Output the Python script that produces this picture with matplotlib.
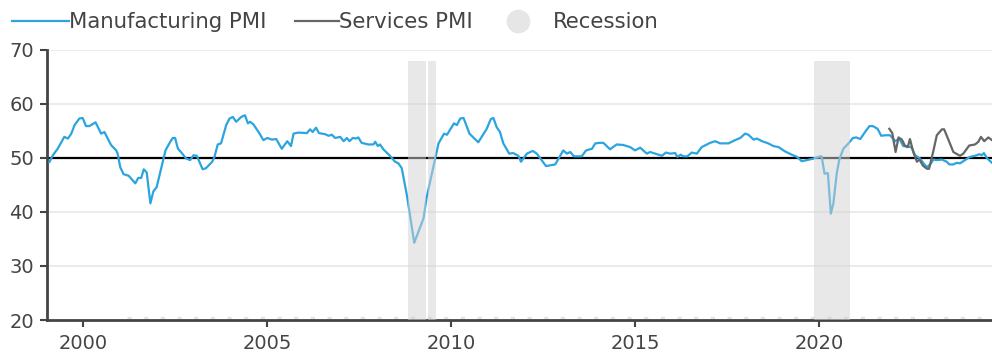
import matplotlib
matplotlib.use("Agg")
import matplotlib.pyplot as plt
from matplotlib.lines import Line2D

# ------------------------------------------------------------------ data (decimal years)
MFG_T = [1999.08, 1999.17, 1999.30, 1999.48, 1999.58, 1999.67, 1999.76, 1999.89, 1999.98,
         2000.07, 2000.16, 2000.33, 2000.48, 2000.57, 2000.75, 2000.89, 2000.93, 2001.00,
         2001.09, 2001.23, 2001.41, 2001.49, 2001.57, 2001.64, 2001.72, 2001.82, 2001.90,
         2001.99, 2002.23, 2002.36, 2002.43, 2002.49, 2002.57, 2002.65, 2002.79, 2002.90,
         2002.99, 2003.08, 2003.24, 2003.33, 2003.50, 2003.56, 2003.65, 2003.74, 2003.88,
         2003.97, 2004.06, 2004.15, 2004.29, 2004.39, 2004.47, 2004.53, 2004.62, 2004.76,
         2004.89, 2005.00, 2005.12, 2005.24, 2005.39, 2005.54, 2005.64, 2005.71, 2005.84,
         2006.07, 2006.16, 2006.23, 2006.32, 2006.40, 2006.57, 2006.66, 2006.75, 2006.84,
         2006.98, 2007.07, 2007.16, 2007.23, 2007.32, 2007.41, 2007.47, 2007.56, 2007.74,
         2007.88, 2007.93, 2008.00, 2008.06, 2008.15, 2008.33, 2008.47, 2008.56, 2008.65,
         2008.79, 2008.99, 2009.24, 2009.33, 2009.65, 2009.80, 2009.88, 2010.07, 2010.15,
         2010.24, 2010.33, 2010.49, 2010.73, 2010.96, 2011.07, 2011.14, 2011.23, 2011.32,
         2011.41, 2011.57, 2011.68, 2011.82, 2011.89, 2012.05, 2012.21, 2012.32, 2012.57,
         2012.82, 2013.04, 2013.14, 2013.23, 2013.33, 2013.54, 2013.66, 2013.82, 2013.91,
         2014.04, 2014.13, 2014.31, 2014.49, 2014.67, 2014.86, 2014.99, 2015.13, 2015.31,
         2015.40, 2015.72, 2015.83, 2015.94, 2016.08, 2016.14, 2016.23, 2016.30, 2016.41,
         2016.53, 2016.67, 2016.80, 2016.94, 2017.03, 2017.17, 2017.30, 2017.53, 2017.71,
         2017.85, 2017.98, 2018.07, 2018.21, 2018.30, 2018.44, 2018.61, 2018.75, 2018.89,
         2019.07, 2019.25, 2019.39, 2019.52, 2019.66, 2019.84, 2020.02, 2020.06, 2020.14,
         2020.23, 2020.31, 2020.38, 2020.47, 2020.54, 2020.65, 2020.79, 2020.91, 2021.00,
         2021.11, 2021.24, 2021.36, 2021.45, 2021.58, 2021.68, 2021.79, 2021.92, 2022.06,
         2022.17, 2022.28, 2022.39, 2022.51, 2022.60, 2022.73, 2022.83, 2022.92, 2023.01,
         2023.10, 2023.19, 2023.33, 2023.46, 2023.53, 2023.64, 2023.73, 2023.82, 2023.91,
         2024.09, 2024.23, 2024.35, 2024.41, 2024.47, 2024.56, 2024.69]
MFG_V = [49.3, 50.5, 51.7, 53.9, 53.6, 54.5, 56.1, 57.3, 57.4,
         55.9, 55.9, 56.6, 54.5, 54.8, 52.4, 51.4, 50.8, 48.3,
         47.0, 46.7, 45.3, 46.3, 46.3, 47.9, 47.3, 41.6, 43.8,
         44.6, 51.4, 53.0, 53.7, 53.7, 51.7, 51.1, 49.9, 49.6,
         50.5, 50.4, 47.9, 48.1, 49.3, 50.2, 52.5, 52.7, 56.1,
         57.3, 57.6, 56.7, 57.6, 57.9, 56.4, 56.7, 56.2, 54.8,
         53.3, 53.7, 53.4, 53.5, 51.7, 53.1, 52.2, 54.5, 54.7,
         54.6, 55.3, 54.8, 55.6, 54.6, 54.4, 54.1, 54.3, 53.7,
         53.9, 53.1, 53.7, 53.1, 53.7, 53.6, 53.8, 52.8, 52.5,
         52.5, 53.0, 52.2, 52.5, 51.6, 50.4, 49.3, 49.0, 48.1,
         43.1, 34.3, 38.8, 42.8, 52.7, 54.5, 54.3, 56.4, 56.1,
         57.3, 57.4, 54.5, 52.9, 55.4, 57.2, 57.4, 55.7, 54.8,
         52.7, 50.8, 50.9, 50.4, 49.3, 50.8, 51.3, 50.8, 48.5,
         48.8, 51.4, 50.8, 51.1, 50.3, 50.3, 51.4, 51.7, 52.7,
         52.8, 52.8, 51.6, 52.5, 52.4, 52.0, 51.4, 51.9, 50.8,
         51.1, 50.4, 51.0, 50.8, 50.9, 50.2, 50.6, 50.3, 50.3,
         51.0, 50.8, 52.0, 52.5, 52.8, 53.1, 52.7, 52.7, 53.3,
         53.7, 54.5, 54.3, 53.4, 53.6, 53.1, 52.7, 52.2, 52.0,
         51.2, 50.6, 50.2, 49.4, 49.6, 49.9, 50.3, 50.3, 47.1,
         47.2, 39.7, 41.6, 47.1, 49.7, 51.7, 52.7, 53.7, 53.8,
         53.5, 54.8, 55.9, 55.9, 55.4, 54.1, 54.2, 54.2, 53.1,
         53.6, 52.2, 52.2, 51.9, 50.5, 49.9, 49.0, 48.3, 48.8,
         49.7, 49.6, 49.7, 49.3, 48.8, 48.8, 49.1, 49.0, 49.4,
         50.2, 50.4, 50.7, 50.5, 50.9, 49.9, 49.1]

SVC_T = [2021.90, 2021.98, 2022.07, 2022.15, 2022.24, 2022.33, 2022.40, 2022.46, 2022.55,
         2022.65, 2022.72, 2022.81, 2022.92, 2022.98, 2023.10, 2023.19, 2023.33, 2023.39,
         2023.51, 2023.64, 2023.82, 2023.91, 2024.07, 2024.23, 2024.32, 2024.39, 2024.48,
         2024.59, 2024.69]
SVC_V = [55.4, 54.6, 51.1, 53.8, 53.4, 52.2, 52.0, 53.5, 51.1,
         49.3, 49.7, 48.6, 48.0, 48.0, 51.4, 54.2, 55.3, 55.3,
         53.3, 51.1, 50.4, 50.8, 52.3, 52.5, 53.0, 53.9, 53.1,
         53.8, 53.3]

REC_START = [2008.82, 2009.36, 2019.86]
REC_END   = [2009.30, 2009.58, 2020.83]

YEAR_TICKS = [2000, 2005, 2010, 2015, 2020]
VAL_TICKS  = [20, 30, 40, 50, 60, 70]

BLUE  = '#2ba4e0'
GREY  = '#666666'
SHADE = '#d2d2d2'
TXT   = '#444444'

plt.rcParams['font.family'] = ['DejaVu Sans']

fig = plt.figure(figsize=(9.92, 3.54), dpi=100)
ax = fig.add_axes([0.047, 0.096, 0.953, 0.763])

# grid + reference line at 50
for v in VAL_TICKS[1:]:
    if v != 50:
        ax.axhline(v, color='#ebebeb', lw=1.4, zorder=0)
ax.axhline(50, color='black', lw=1.6, zorder=2)

ax.plot(MFG_T, MFG_V, color=BLUE, lw=1.6, zorder=3)
ax.plot(SVC_T, SVC_V, color=GREY, lw=1.6, zorder=3)

# recession bands sit on top of the lines, semi-transparent
for s, e in zip(REC_START, REC_END):
    ax.bar(s, 48, bottom=20, width=e - s, align='edge', color=SHADE,
           alpha=0.5, lw=0, zorder=4)
# zero-height recession markers along the floor
ax.plot([2001.18, 2024.69], [20.35, 20.35], color='#e4e4e4', lw=2.5,
        ls=(0, (1.2, 3.6)), zorder=1, solid_capstyle='butt')

ax.set_xlim(1999.0, 2024.69)
ax.set_ylim(20, 70)
ax.set_xticks(YEAR_TICKS)
ax.set_yticks(VAL_TICKS)
ax.tick_params(axis='both', colors=TXT, labelsize=14, length=5, width=1.5,
               direction='out')
ax.tick_params(axis='x', pad=5)
ax.tick_params(axis='y', pad=4)
for sp in ('top', 'right'):
    ax.spines[sp].set_visible(False)
for sp in ('left', 'bottom'):
    ax.spines[sp].set_color(TXT)
    ax.spines[sp].set_linewidth(2)

# legend entries placed one by one along the top
entries = [
    (Line2D([], [], color=BLUE, lw=1.6), 'Manufacturing PMI', 2.7, 0.0, 0.012),
    (Line2D([], [], color=GREY, lw=1.6), 'Services PMI', 2.1, 0.0, 0.297),
    (Line2D([], [], marker='o', ls='none', markersize=16, color='#e6e6e6'),
     'Recession', 2.7, 0.3, 0.4935),
]
for h, lab, hlen, pad, x0 in entries:
    leg = fig.legend([h], [lab], loc='center left', bbox_to_anchor=(x0, 0.938),
                     frameon=False, fontsize=15.3, handlelength=hlen,
                     handletextpad=pad, borderaxespad=0, borderpad=0)
    for t in leg.get_texts():
        t.set_color(TXT)

fig.savefig('out.png', dpi=100)
